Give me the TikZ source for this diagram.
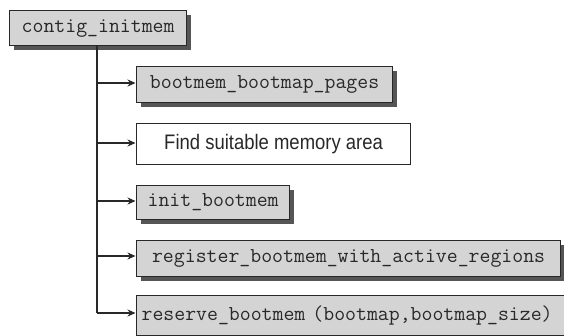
\documentclass[tikz,border=0pt]{standalone}
\usepackage{fontspec}
\newfontfamily\condsans[FakeStretch=0.88]{Liberation Sans}
\usetikzlibrary{arrows.meta,shadows}
\definecolor{boxgray}{RGB}{212,212,212}
\definecolor{shadgray}{RGB}{85,85,85}
\definecolor{ink}{RGB}{40,40,40}
\tikzset{
  fnbox/.style={draw=ink, line width=1.2pt, fill=boxgray, anchor=north west,
    inner sep=0pt, text=ink, font=\ttfamily\fontsize{21.2}{23}\selectfont,
    drop shadow={shadow xshift=4.5pt, shadow yshift=-4.5pt, fill=shadgray, opacity=1}},
  txtbox/.style={draw=ink, line width=1.2pt, fill=white, anchor=north west,
    inner sep=0pt, text=ink, font=\condsans\fontsize{21}{23}\selectfont},
  link/.style={line width=2pt, draw=ink},
  arr/.style={link, -{Stealth[length=8pt,width=7pt]}, shorten >=0.5pt}
}
\begin{document}
\begin{tikzpicture}[x=1pt,y=-1pt]
\useasboundingbox (0,0) rectangle (564,335);
\clip (0,0) rectangle (564,335);
\fill[white] (0,0) rectangle (564,335);
\node[fnbox, minimum width=177pt, minimum height=35pt] (root) at (9,10) {contig\_initmem};
\node[fnbox, minimum width=256pt, minimum height=36pt] (b1) at (136,66) {bootmem\_bootmap\_pages};
\node[txtbox, minimum width=274pt, minimum height=41pt] (b2) at (136,123) {Find suitable memory area};
\node[fnbox, minimum width=153pt, minimum height=34pt] (b3) at (136,185) {init\_bootmem};
\node[fnbox, minimum width=424pt, minimum height=36pt] (b4) at (136,240) {register\_bootmem\_with\_active\_regions};
\node[fnbox, minimum width=436pt, minimum height=40pt, text width=430pt, align=left] (b5) at (136,295) {\hspace*{2pt}reserve\_bootmem (bootmap,bootmap\_size)};
\coordinate (top) at (97,45);
\coordinate (c1) at (97,83);
\coordinate (c2) at (97,143);
\coordinate (c3) at (97,201);
\coordinate (c4) at (97,256);
\coordinate (c5) at (97,313);
\draw[link] (root.south west -| top) -- (c5);
\draw[arr] (c1) -- (c1 -| b1.west);
\draw[arr] (c2) -- (c2 -| b2.west);
\draw[arr] (c3) -- (c3 -| b3.west);
\draw[arr] (c4) -- (c4 -| b4.west);
\draw[arr] (c5) -- (c5 -| b5.west);
\end{tikzpicture}
\end{document}
